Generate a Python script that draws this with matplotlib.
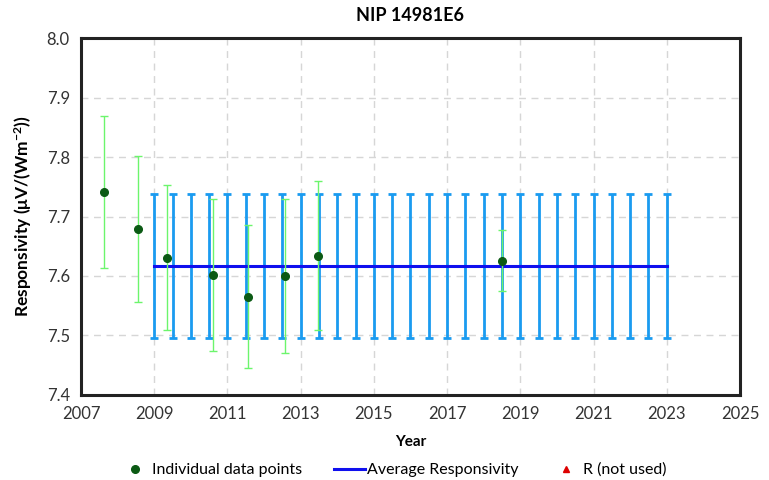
import numpy as np
import matplotlib
matplotlib.use("Agg")
import matplotlib.pyplot as plt

plt.rcParams["font.family"] = ["Lato", "DejaVu Sans"]

# Individual calibration points
point_years = [2007.64, 2008.57, 2009.35, 2010.60, 2011.55, 2012.57, 2013.48, 2018.49]
point_values = [7.741, 7.679, 7.631, 7.602, 7.565, 7.600, 7.634, 7.626]
point_errors = [0.128, 0.123, 0.122, 0.128, 0.120, 0.129, 0.125, 0.052]

# Average responsivity, shown every half year from 2009 to 2023
avg_years = [2009.0, 2009.5, 2010.0, 2010.5, 2011.0, 2011.5, 2012.0, 2012.5,
             2013.0, 2013.5, 2014.0, 2014.5, 2015.0, 2015.5, 2016.0, 2016.5,
             2017.0, 2017.5, 2018.0, 2018.5, 2019.0, 2019.5, 2020.0, 2020.5,
             2021.0, 2021.5, 2022.0, 2022.5, 2023.0]
avg_value = 7.616
avg_error = 0.121

x_ticks = [2007, 2009, 2011, 2013, 2015, 2017, 2019, 2021, 2023, 2025]
y_ticks = [7.4, 7.5, 7.6, 7.7, 7.8, 7.9, 8.0]

fig = plt.figure(figsize=(7.69, 4.8), dpi=100)
ax = fig.add_axes([0.1053, 0.1771, 0.8570, 0.7437])

avg_line = [avg_value] * len(avg_years)
ax.errorbar(avg_years, avg_line, yerr=avg_error, fmt="none",
            ecolor="#1a9bf0", elinewidth=2.0, capsize=3, capthick=2.0, zorder=2)
ax.plot(avg_years, avg_line, color="#1010ee", linewidth=2.2, zorder=3,
        label="Average Responsivity")

ax.errorbar(point_years, point_values, yerr=point_errors, fmt="none",
            ecolor="#6cf56c", elinewidth=1.0, capsize=3, capthick=1.0, zorder=4)
ax.plot(point_years, point_values, "o", color="#0b5a14", markersize=5.5,
        linestyle="none", zorder=5, label="Individual data points")
ax.plot([], [], "^", color="#dd0000", markersize=5, linestyle="none",
        label="R (not used)")

ax.set_xlim(2007, 2025)
ax.set_ylim(7.4, 8.0)
ax.set_xticks(x_ticks)
ax.set_yticks(y_ticks)
ax.set_yticklabels([f"{v:.1f}" for v in y_ticks])
ax.tick_params(length=0, labelsize=12, pad=8, colors="#333333")
ax.grid(color="#d6d6d6", linestyle=(0, (5, 4)), linewidth=1.0)
ax.set_axisbelow(True)
for spine in ax.spines.values():
    spine.set_linewidth(2.2)
    spine.set_color("#222222")

ax.set_title("NIP 14981E6", fontsize=13, fontweight="bold", pad=12)
ax.set_xlabel("Year", fontsize=11, fontweight="bold", labelpad=9)
ax.set_ylabel(r"Responsivity ($\mathregular{\mu V/(Wm^{-2})}$)",
              fontsize=12.5, fontweight="bold", labelpad=9)

handles, labels = ax.get_legend_handles_labels()
order = [1, 0, 2]
fig.legend([handles[i] for i in order], [labels[i] for i in order],
           loc="center", bbox_to_anchor=(393 / 769, 1 - 470 / 480), ncol=3,
           frameon=False, fontsize=11.5, handlelength=1.9, columnspacing=2.0,
           handletextpad=0.15, borderaxespad=0)

fig.savefig("out.png", dpi=100)
